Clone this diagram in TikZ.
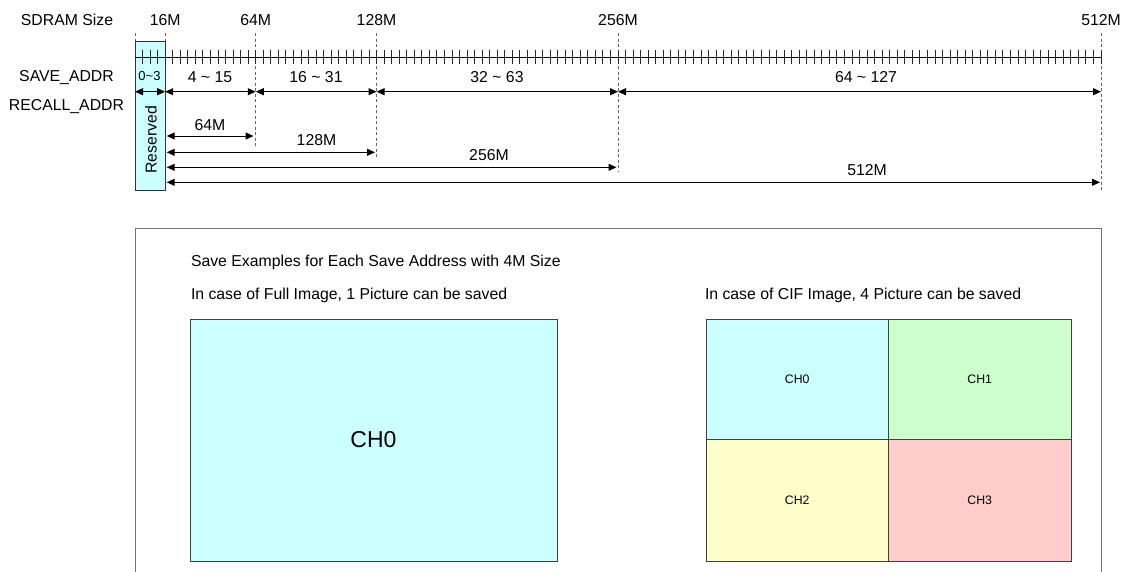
\documentclass[tikz,border=0pt]{standalone}
\usepackage{fontspec}
\setmainfont{Liberation Sans}
\usetikzlibrary{arrows.meta}
\definecolor{cyanf}{HTML}{CCFFFF}
\definecolor{greenf}{HTML}{CCFFCC}
\definecolor{yellowf}{HTML}{FFFFCC}
\definecolor{pinkf}{HTML}{FFCCCC}
\begin{document}
\begin{tikzpicture}[x=1pt,y=-1pt,
  every node/.style={inner sep=0pt,outer sep=0pt},
  txt/.style={font=\fontsize{15.8}{19}\selectfont},
  small/.style={font=\fontsize{13}{15}\selectfont},
  tiny/.style={font=\fontsize{12.3}{14}\selectfont},
  big/.style={font=\fontsize{23}{27}\selectfont},
  guide/.style={draw=black!60,line width=0.9pt,dash pattern=on 3pt off 2.5pt},
  tip/.tip={Triangle[length=8pt,width=7pt]},
  dim/.style={tip-tip,line width=1pt},
  cell/.style={draw=black!75,line width=1pt},
  frame/.style={draw=black!55,line width=1pt}]
\useasboundingbox (0,0) rectangle (1121,571);
% ---- scale coordinates (0M at 135, 1.8867 px per M) ----
\foreach \n/\x in {m0/135,m16/165.2,m64/255.75,m128/376.5,m256/618,m512/1101}{
  \coordinate (\n-top) at (\x,33);
}
\coordinate (m0-bot) at (135,41);
\coordinate (m16-bot) at (165.2,41);
\coordinate (m64-bot) at (255.75,147);
\coordinate (m128-bot) at (376.5,157);
\coordinate (m256-bot) at (618,172);
\coordinate (m512-bot) at (1101,190);
% guide lines
\foreach \n in {m0,m16,m64,m128,m256,m512}{
  \draw[guide] (\n-top) -- (\n-bot);
}
% reserved box
\draw[fill=cyanf,draw=black!80,line width=1pt] (135,41) rectangle (165.2,190);
\node[txt,rotate=90] (reserved) at (151,140) {Reserved};
% scale line and ticks
\coordinate (axisL) at (135,57);
\coordinate (axisR) at (1101,57);
\draw[line width=1pt] (axisL) -- (axisR);
\foreach \i in {1,...,128}{
  \draw[line width=0.9pt,black!85] ({135+\i*7.5469},50) -- ({135+\i*7.5469},64);
}
% top labels
\node[txt,anchor=base] (sdram) at (67,25.5) {SDRAM Size};
\node[txt,anchor=base] (l16) at (165.2,25.5) {16M};
\node[txt,anchor=base] (l64) at (255.75,25.5) {64M};
\node[txt,anchor=base] (l128) at (376.5,25.5) {128M};
\node[txt,anchor=base] (l256) at (618,25.5) {256M};
\node[txt,anchor=base] (l512) at (1101,25.5) {512M};
% row labels
\node[txt,anchor=base] (saveaddr) at (66.5,81.5) {SAVE\_ADDR};
\node[txt,anchor=base] (recalladdr) at (66.5,110.5) {RECALL\_ADDR};
% SAVE_ADDR dimension arrows
\foreach \n/\x in {s0/135,s16/165.2,s64/255.75,s128/376.5,s256/618,s512/1101}{
  \coordinate (\n) at (\x,91.7);
}
\draw[dim] (s0) -- (s16);
\draw[dim] (s16) -- (s64);
\draw[dim] (s64) -- (s128);
\draw[dim] (s128) -- (s256);
\draw[dim] (s256) -- (s512);
\node[small,anchor=base] (a03) at (149.5,80.5) {0\char`\~3};
\node[txt,anchor=base] (a415) at (210,82.5) {4 \char`\~{} 15};
\node[txt,anchor=base] (a1631) at (316,82.5) {16 \char`\~{} 31};
\node[txt,anchor=base] (a3263) at (497,82.5) {32 \char`\~{} 63};
\node[txt,anchor=base] (a64127) at (866,82.5) {64 \char`\~{} 127};
% RECALL_ADDR arrows
\coordinate (r1a) at (166.7,136);   \coordinate (r1b) at (253.5,136);
\coordinate (r2a) at (166.7,152.3); \coordinate (r2b) at (375,152.3);
\coordinate (r3a) at (166.7,167.3); \coordinate (r3b) at (616.5,167.3);
\coordinate (r4a) at (166.7,182.3); \coordinate (r4b) at (1100,182.3);
\draw[dim] (r1a) -- (r1b);
\draw[dim] (r2a) -- (r2b);
\draw[dim] (r3a) -- (r3b);
\draw[dim] (r4a) -- (r4b);
\node[txt,anchor=base] (r64) at (210,130) {64M};
\node[txt,anchor=base] (r128) at (316.5,145) {128M};
\node[txt,anchor=base] (r256) at (489,160) {256M};
\node[txt,anchor=base] (r512) at (867,175) {512M};
% lower frame (open at bottom)
\draw[frame] (135,575) -- (135,228) -- (1101,228) -- (1101,575);
\node[txt,anchor=base west] (title) at (191,266) {Save Examples for Each Save Address with 4M Size};
\node[txt,anchor=base west] (fullcap) at (191,299) {In case of Full Image, 1 Picture can be saved};
\node[txt,anchor=base west] (cifcap) at (705,299) {In case of CIF Image, 4 Picture can be saved};
% full image
\draw[cell,fill=cyanf] (190,319) rectangle (557,561);
\node[big] (full0) at (373.5,440) {CH0};
% CIF quad
\draw[cell,fill=cyanf] (706,319) rectangle (888.5,439.5);
\draw[cell,fill=greenf] (888.5,319) rectangle (1071,439.5);
\draw[cell,fill=yellowf] (706,439.5) rectangle (888.5,561);
\draw[cell,fill=pinkf] (888.5,439.5) rectangle (1071,561);
\node[tiny] (c0) at (797.25,379.25) {CH0};
\node[tiny] (c1) at (979.75,379.25) {CH1};
\node[tiny] (c2) at (797.25,500.25) {CH2};
\node[tiny] (c3) at (979.75,500.25) {CH3};
\end{tikzpicture}
\end{document}
